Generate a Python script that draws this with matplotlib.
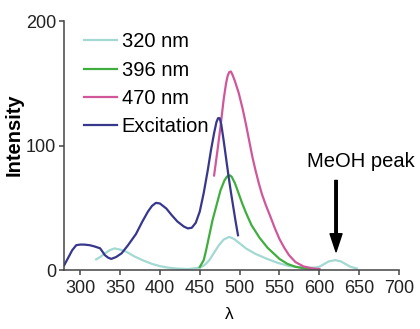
import matplotlib
matplotlib.use("Agg")
from matplotlib import pyplot as plt

# spectra
exc_wl = [280, 285, 290, 295, 300, 305, 312, 318, 325, 331, 335, 339, 345, 352, 360, 370,
          378, 385, 390, 395, 400, 408, 415, 422, 430, 435, 440, 445, 450, 455, 460, 464,
          468, 471, 473, 475, 477, 480, 483, 486, 489, 492, 495, 498]
exc_int = [4, 10, 16, 20, 20.5, 20.5, 20, 19, 17.5, 12, 10, 9, 10.5, 13.5, 20, 29,
           39, 47, 51.5, 54, 53.5, 49.5, 44, 39, 35, 33.5, 34, 38, 47, 62, 80, 96,
           110, 119, 122, 122, 117, 104, 90, 76, 63, 51, 39, 28]

em320_wl = [320, 325, 331, 337, 343, 350, 358, 368, 378, 390, 400, 410, 420, 435, 450, 456,
            462, 468, 474, 480, 487, 493, 500, 508, 520, 533, 547, 562, 580, 595, 600, 605,
            612, 620, 627, 634, 639, 647]
em320_int = [8.6, 10.5, 13.4, 16, 17.4, 16.5, 14.7, 11, 8, 5, 3.2, 2, 1.3, 0.8, 2, 4,
             8, 14, 20, 24.5, 26.7, 25, 21.5, 17.4, 13, 9.4, 6, 3.2, 2, 2, 2.7, 4.5,
             7, 8, 7, 4.5, 2.7, 1.3]

em396_wl = [450, 455, 458, 462, 466, 471, 476, 481, 484, 486, 488, 490, 494, 498, 503, 508,
            515, 525, 535, 550, 560, 570, 580, 600]
em396_int = [2.5, 8, 16, 28, 40, 52, 64, 72, 75, 76, 76, 75, 70, 63, 54, 46,
             36, 26, 18, 9, 5, 2.7, 1.5, 0.5]

em470_wl = [468, 472, 476, 480, 483, 485, 487, 489, 491, 494, 499, 504, 508, 512, 516, 520,
            524, 528, 533, 538, 544, 550, 556, 562, 570, 580, 590, 600]
em470_int = [76, 95, 115, 137, 150, 156, 159, 159.5, 157, 152, 142, 129, 117, 104, 91, 80,
             70, 61, 52, 44, 34, 25, 18, 12, 6.5, 3, 1.5, 0.8]

x_ticks = [300, 350, 400, 450, 500, 550, 600, 650, 700]
y_ticks = [0, 100, 200]

plt.rcParams['font.family'] = ['Liberation Sans', 'DejaVu Sans']

fig = plt.figure(figsize=(4.2, 3.29), dpi=100)
ax = fig.add_axes([0.153, 0.179, 0.797, 0.757])

ax.plot(em320_wl, em320_int, color='#a3d9d2', lw=1.6, label='320 nm')
ax.plot(em396_wl, em396_int, color='#3fae3f', lw=1.6, label='396 nm')
ax.plot(em470_wl, em470_int, color='#cf579a', lw=1.6, label='470 nm')
ax.plot(exc_wl, exc_int, color='#37378c', lw=1.6, label='Excitation')

ax.set_xlim(280, 700)
ax.set_ylim(0, 200)
ax.set_xticks(x_ticks)
ax.set_yticks(y_ticks)
for s in ['top', 'right']:
    ax.spines[s].set_visible(False)
for s in ['left', 'bottom']:
    ax.spines[s].set_color('#444444')
    ax.spines[s].set_linewidth(1.1)
ax.tick_params(axis='both', length=3.6, width=1.1, color='#444444', labelsize=13, labelcolor='#222222')
ax.tick_params(axis='x', pad=3.3)
ax.tick_params(axis='y', pad=2.4)

ax.set_ylabel('Intensity', fontsize=14.5, fontweight='bold')
ax.yaxis.set_label_coords(-0.12, 0.542)
ax.set_xlabel('λ', fontsize=12.5)
ax.xaxis.set_label_coords(0.492, -0.15)

ax.annotate('', xy=(621, 14.7), xytext=(621, 72),
            arrowprops=dict(facecolor='black', edgecolor='black', width=1.8,
                            headwidth=8.6, headlength=13, shrink=0))
ax.text(584.6, 83, 'MeOH peak', fontsize=14.5, ha='left', va='baseline', clip_on=False)

ax.legend(loc='upper left', bbox_to_anchor=(0.03, 0.995), frameon=False, fontsize=14.5,
          handlelength=1.6, handletextpad=0.25, labelspacing=0.46, borderaxespad=0.1)

fig.savefig('out.png', dpi=100)
